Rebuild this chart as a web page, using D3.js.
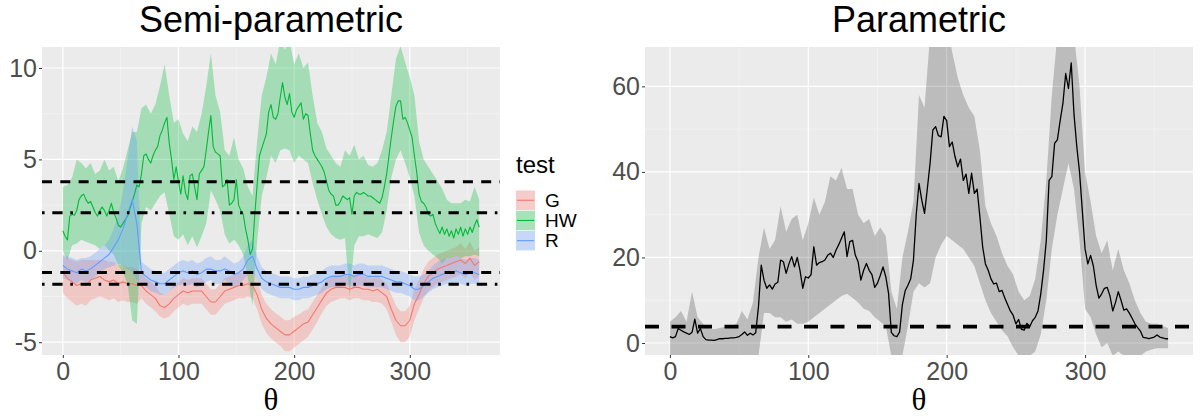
<!DOCTYPE html>
<html><head><meta charset="utf-8">
<script src="https://cdn.jsdelivr.net/npm/d3@7"></script>
<style>body{margin:0;background:#fff} svg{display:block}</style>
</head><body>
<svg id="c" width="1200" height="418"></svg>
<script>
// ---------------- DATA ----------------
// coarse grid (bands, G and R statistics)
const theta = [0,4,8,12,16,20,24,28,32,36, 40,44,48,52,56,60,64,68,72,76,
  80,84,88,92,96,100,104,108,112,116, 120,124,128,132,136,140,144,148,152,156,
  160,164,168,172,176,180,184,188,192,196, 200,204,208,212,216,220,224,228,232,236,
  240,244,248,252,256,260,264,268,272,276, 280,284,288,292,296,300,304,308,312,316,
  320,324,328,332,336,340,344,348,352,356, 360];
// fine grid (HW statistic, parametric statistic)
const thetaFine = [0,2,4,6,8,10,12,14,16,18, 20,22,24,26,28,30,32,34,36,38,
  40,42,44,46,48,50,52,54,56,58, 60,62,64,66,68,70,72,74,76,78,
  80,82,84,86,88,90,92,94,96,98, 100,102,104,106,108,110,112,114,116,118,
  120,122,124,126,128,130,132,134,136,138, 140,142,144,146,148,150,152,154,156,158,
  160,162,164,166,168,170,172,174,176,178, 180,182,184,186,188,190,192,194,196,198,
  200,202,204,206,208,210,212,214,216,218, 220,222,224,226,228,230,232,234,236,238,
  240,242,244,246,248,250,252,254,256,258, 260,262,264,266,268,270,272,274,276,278,
  280,282,284,286,288,290,292,294,296,298, 300,302,304,306,308,310,312,314,316,318,
  320,322,324,326,328,330,332,334,336,338, 340,342,344,346,348,350,352,354,356,358, 360];

const testNames = ["G", "HW", "R"];
const testColors = ["#F8766D", "#00BA38", "#619CFF"];

// Semi-parametric: HW statistic (fine grid) and band (coarse grid)
const hwMid = [1.1,0.8,0.6,1.9,2.0,1.95,2.2,2.8,3.0,3.1, 2.8,2.6,2.7,2.4,2.1,1.9,2.2,2.4,2.2,1.9,
  2.2,2.6,2.1,1.8,1.4,1.3,1.5,1.7,1.9,2.3, 2.7,3.1,3.6,3.5,4.2,5.2,5.3,5.0,4.8,5.2,
  5.5,5.7,6.3,6.6,7.0,7.3,5.9,5.0,3.9,4.6, 3.8,3.1,4.1,3.2,2.8,4.1,4.2,3.5,2.8,4.2,
  4.4,4.6,5.5,6.5,7.4,5.7,5.4,5.3,5.2,3.5, 3.6,3.9,2.5,2.6,2.8,3.9,2.5,2.2,2.0,1.2,
  0.6,-0.2,0.1,2.0,3.6,5.2,5.6,6.0,6.4,7.6, 8.0,7.3,7.2,7.5,8.4,9.2,8.4,8.0,8.6,7.6,
  7.3,7.7,7.9,8.1,7.2,7.5,7.4,6.4,5.5,5.2, 5.0,4.8,4.6,4.3,3.8,3.3,3.1,3.0,2.5,2.5,
  2.7,3.0,2.9,2.8,2.9,2.0,3.0,3.2,3.1,3.1, 3.2,3.1,3.0,3.0,2.9,2.8,2.7,2.6,2.9,3.5,
  4.2,5.2,6.2,7.1,7.9,8.2,8.2,7.2,7.3,7.0, 6.6,6.2,5.2,4.3,3.1,2.7,2.6,2.4,2.0,1.9,
  2.0,1.5,1.2,0.95,1.3,0.9,1.2,0.8,1.1,0.7, 1.2,0.9,1.3,0.8,1.2,0.9,1.3,1.0,1.4,1.7, 1.3];
const hwUp = [3.5,3.6,4.0,5.0,4.8,4.5,4.8,4.2,4.4,5.0, 4.4,4.6,3.8,4.5,5.5,6.5,6.5,7.8,8.0,7.5,
  8.0,9.0,10.2,8.5,7.0,7.2,6.4,6.0,6.8,6.5, 7.5,9.0,10.8,8.5,7.6,5.5,5.2,6.2,5.0,4.5,
  3.5,3.0,6.0,8.5,9.5,10.8,10.2,11.5,11.0,11.5, 10.2,10.8,10.0,10.3,8.5,7.0,6.5,5.6,5.2,4.8,
  4.6,5.5,5.2,5.8,5.0,5.2,4.7,4.6,4.8,5.5, 6.5,8.5,10.5,11.2,10.3,9.5,8.5,6.0,5.0,4.6,
  4.2,3.8,3.4,2.8,2.6,2.6,2.6,2.8,2.7,3.5, 2.8];
const hwLo = [0.0,-0.5,0.3,0.4,0.6,0.5,0.4,0.3,0.1,0.3, 0.0,-0.2,-0.8,-1.2,-1.8,-3.8,-4.0,1.5,2.4,2.2,
  2.6,3.0,3.2,2.0,0.8,0.6,0.9,0.3,0.8,0.2, 0.8,1.5,3.3,2.8,2.2,0.9,0.4,0.6,0.3,-0.2,
  -1.5,-3.0,0.5,3.0,4.0,5.2,4.8,5.5,5.6,5.5, 4.8,5.2,5.0,4.8,3.7,2.8,2.0,1.3,0.9,0.7,
  0.6,0.7,-2.5,0.3,0.8,0.8,0.9,0.8,0.7,1.0, 2.2,4.0,5.0,5.5,4.8,4.0,3.0,1.0,0.3,0.0,
  -0.2,-0.4,-0.7,-0.4,-0.4,-0.3,-0.4,-0.3,-0.3,-0.2, -0.3];

// Semi-parametric: G statistic and band
const gMid = [-1.2,-1.5,-1.7,-1.9,-1.8,-1.9,-1.6,-1.5,-1.4,-1.6, -1.7,-1.6,-1.8,-1.7,-1.8,-1.8,-1.9,-1.9,-2.2,-2.4,
  -2.6,-3.0,-3.1,-2.9,-2.6,-2.4,-2.2,-2.3,-2.2,-2.2, -2.2,-2.5,-2.8,-2.8,-2.5,-2.2,-2.1,-2.0,-1.9,-1.9,
  -1.8,-1.9,-2.4,-3.2,-3.7,-4.0,-4.2,-4.4,-4.6,-4.6, -4.4,-4.2,-4.0,-3.9,-3.5,-3.1,-2.7,-2.3,-2.1,-2.0,
  -2.0,-2.0,-2.1,-2.0,-2.0,-2.1,-2.1,-2.2,-2.1,-2.3, -2.5,-3.2,-3.8,-4.1,-4.1,-3.8,-2.9,-2.4,-1.8,-1.4,
  -1.2,-1.0,-0.9,-0.8,-0.7,-0.6,-0.5,-0.7,-0.4,-0.8, -0.6];
const gUp = [-0.3,-0.4,-0.5,-0.6,-0.5,-0.5,-0.5,-0.5,-0.5,-0.5, -0.6,-0.6,-0.8,-0.8,-0.9,-0.9,-1.0,-1.2,-1.5,-1.7,
  -1.9,-2.3,-2.4,-2.2,-1.9,-1.7,-1.5,-1.6,-1.5,-1.5, -1.5,-1.8,-2.1,-2.1,-1.8,-1.5,-1.4,-1.3,-1.2,-1.2,
  -1.1,-1.2,-1.6,-2.4,-2.9,-3.2,-3.4,-3.6,-3.8,-3.8, -3.6,-3.5,-3.3,-3.2,-2.8,-2.4,-2.0,-1.6,-1.4,-1.3,
  -1.3,-1.3,-1.4,-1.3,-1.3,-1.4,-1.4,-1.5,-1.4,-1.6, -1.8,-2.4,-3.0,-3.3,-3.3,-3.0,-2.1,-1.6,-1.0,-0.6,
  -0.4,-0.2,-0.1,0.0,0.1,0.2,0.4,0.1,0.5,0.0, 0.2];
const gLo = [-2.3,-2.6,-2.8,-3.0,-2.9,-3.0,-2.7,-2.6,-2.5,-2.6, -2.7,-2.6,-2.8,-2.7,-2.8,-2.8,-2.9,-2.6,-2.9,-3.1,
  -3.3,-3.6,-3.7,-3.6,-3.3,-3.1,-2.9,-3.0,-2.9,-2.9, -2.9,-3.2,-3.5,-3.5,-3.2,-2.9,-2.8,-2.7,-2.6,-2.6,
  -2.5,-2.6,-3.2,-4.0,-4.5,-4.8,-5.0,-5.2,-5.5,-5.5, -5.3,-5.1,-4.9,-4.7,-4.3,-3.9,-3.4,-3.0,-2.8,-2.7,
  -2.6,-2.6,-2.7,-2.6,-2.6,-2.7,-2.7,-2.8,-2.8,-2.9, -3.2,-3.9,-4.6,-5.0,-5.0,-4.7,-3.8,-3.2,-2.6,-2.2,
  -2.0,-1.8,-1.7,-1.6,-1.5,-1.4,-1.3,-1.5,-1.2,-1.6, -1.4];

// Semi-parametric: R statistic and band
const rMid = [-0.8,-1.0,-1.1,-1.2,-1.0,-1.1,-1.0,-0.8,-0.6,-0.4, -0.2,0.2,0.6,1.2,2.0,2.8,1.5,-1.2,-1.4,-1.6,
  -1.7,-1.8,-1.8,-1.6,-1.4,-1.2,-1.1,-1.2,-1.1,-1.3, -1.2,-1.0,-1.0,-1.1,-1.1,-1.0,-1.1,-1.3,-1.2,-1.0,
  -0.5,-0.3,-1.0,-1.5,-1.7,-1.8,-1.9,-2.0,-2.0,-2.0, -2.1,-2.1,-2.0,-2.0,-1.9,-1.8,-1.7,-1.5,-1.4,-1.4,
  -1.4,-1.3,-1.3,-1.4,-1.3,-1.3,-1.4,-1.4,-1.4,-1.4, -1.5,-1.6,-1.7,-1.7,-1.8,-1.9,-2.1,-2.1,-1.9,-1.7,
  -1.5,-1.4,-1.3,-1.2,-1.2,-1.1,-1.2,-1.3,-1.2,-1.2, -1.3];
const rUp = [-0.2,-0.3,-0.4,-0.5,-0.4,-0.4,-0.3,-0.1,0.1,0.3, 0.6,1.2,2.0,3.2,5.0,6.8,6.0,-0.6,-0.8,-1.0,
  -1.1,-1.2,-1.2,-1.0,-0.8,-0.6,-0.5,-0.6,-0.5,-0.7, -0.6,-0.4,-0.3,-0.5,-0.5,-0.3,-0.5,-0.7,-0.6,-0.3,
  0.3,0.6,-0.3,-0.9,-1.1,-1.2,-1.3,-1.4,-1.4,-1.4, -1.5,-1.5,-1.4,-1.4,-1.3,-1.2,-1.1,-0.9,-0.8,-0.8,
  -0.8,-0.7,-0.7,-0.8,-0.7,-0.7,-0.8,-0.8,-0.8,-0.8, -0.9,-1.0,-1.1,-1.1,-1.2,-1.3,-1.4,-1.4,-1.3,-1.1,
  -0.8,-0.6,-0.5,-0.4,-0.4,-0.3,-0.4,-0.5,-0.4,-0.4, -0.5];
const rLo = [-1.5,-1.6,-1.7,-1.8,-1.6,-1.7,-1.6,-1.4,-1.2,-1.0, -0.9,-0.8,-0.7,-0.8,-1.0,-1.2,-1.6,-1.8,-2.0,-2.2,
  -2.3,-2.4,-2.4,-2.2,-2.0,-1.9,-1.8,-1.9,-1.8,-2.0, -1.9,-1.7,-1.6,-1.8,-1.8,-1.6,-1.8,-2.0,-1.9,-1.6,
  -1.3,-1.2,-1.6,-2.1,-2.3,-2.4,-2.5,-2.6,-2.6,-2.6, -2.7,-2.7,-2.6,-2.6,-2.5,-2.4,-2.3,-2.1,-2.0,-2.0,
  -2.0,-1.9,-1.9,-2.0,-1.9,-1.9,-2.0,-2.0,-2.0,-2.0, -2.1,-2.2,-2.3,-2.3,-2.4,-2.5,-2.7,-2.7,-2.5,-2.3,
  -2.1,-2.0,-1.9,-1.8,-1.8,-1.7,-1.8,-1.9,-1.8,-1.8, -1.9];

// Semi-parametric reference lines
const semiDashed = [3.78, -1.18];
const semiDotdash = [2.08, -1.83];

// Parametric statistic (fine grid) and band (coarse grid)
const parMid = [1.5,1.2,1.5,3.4,3.0,2.6,2.3,2.0,2.5,5.6, 2.3,3.4,1.5,0.8,0.7,0.7,0.6,0.8,1.0,1.0,
  1.1,1.1,1.2,1.2,1.3,1.5,2.0,2.6,1.8,2.3, 1.9,2.4,8.5,18.2,14.7,12.8,13.6,12.6,13.8,14.2,
  19.4,19.0,16.3,18.5,20.2,17.8,20.0,17.0,12.8,15.5, 15.2,16.0,22.5,18.2,18.8,19.0,19.4,20.5,21.0,20.0,
  21.7,23.0,24.5,26.0,20.2,23.7,24.0,20.5,19.0,14.7, 17.0,18.6,17.0,16.0,13.0,14.0,15.8,17.8,15.5,11.6,
  2.5,1.7,1.5,2.6,9.0,12.2,13.5,15.0,19.4,30.0, 37.3,33.4,30.3,36.0,42.0,49.8,50.6,48.5,48.2,53.0,
  52.0,45.9,47.0,43.6,41.2,43.0,38.0,39.5,35.0,39.7, 35.0,36.0,29.5,22.5,18.5,17.0,15.0,13.8,14.0,12.0,
  12.3,10.5,9.0,7.5,6.5,4.5,5.5,3.2,3.0,4.6, 3.8,5.2,6.0,7.5,11.5,17.0,24.0,38.0,38.9,46.7,
  47.5,52.0,56.0,63.0,59.5,65.5,53.5,46.0,40.0,31.0, 22.0,18.5,20.5,18.0,13.5,10.5,11.5,12.8,13.0,11.0,
  7.5,9.5,12.0,10.0,7.7,8.0,7.0,5.8,4.5,3.6, 2.8,1.3,1.2,1.0,1.2,1.4,1.9,1.4,1.2,1.0, 1.0];
const parUp = [5.0,6.0,7.5,5.0,12.0,6.0,4.5,3.5,3.2,3.5, 3.8,4.0,4.5,7.5,5.5,9.5,20.0,27.0,22.0,24.0,
  32.0,26.0,29.0,30.0,24.0,28.0,34.0,30.0,33.0,39.0, 38.0,41.0,36.0,36.0,30.0,28.0,29.0,25.0,27.0,25.0,
  12.0,8.0,20.0,26.0,33.0,58.0,55.0,72.0,75.0,75.0, 75.0,68.0,62.0,58.0,55.0,53.0,45.0,32.0,28.0,25.0,
  21.0,18.0,16.0,12.0,10.0,11.0,15.0,24.0,38.0,58.0, 72.0,75.0,75.0,72.0,60.0,40.0,33.0,25.0,21.0,24.0,
  17.0,22.0,17.0,14.0,10.0,7.0,5.0,4.5,4.5,4.0, 3.5];
const parLo = [-3,-3,-3,-3,-3,-3,-3,-3,-3,-3, -3,-3,-3,-3,-3,-3,-3,7,7,6,
  6,5,5.5,4.5,4.5,5,6,7,8,9, 10,11,11.5,10.5,9.5,8,7.5,6,5,4,
  -3,-3,-3,4,12,14,13,14,20,23, 25,24,23,22,20,18,14,10,7,5,
  3,1.5,-1,-3,-3,-3,-2,2,10,22, 30,36,42,36,24,8,6,2,-1,0,
  -3,-2,-3,-3,-3,-3,-2,-1.5,-1.2,-1.2, -1.2];
const parDashed = [3.84];

// Axis ticks
const xTicks = [0, 100, 200, 300];
const xMinor = [50, 150, 250, 350];
const semiYTicks = [-5, 0, 5, 10];
const semiYMinor = [-2.5, 2.5, 7.5];
const parYTicks = [0, 20, 40, 60];
const parYMinor = [10, 30, 50];

// ---------------- DRAW ----------------
const svg = d3.select('#c');
const sans = "'Liberation Sans', Arial, Helvetica, sans-serif";
const serif = "'Liberation Serif', 'DejaVu Serif', serif";

function makePanel(id, left, right, top, bottom, yDomain, yTicks, yMinor, title) {
  const x = d3.scaleLinear().domain([-18, 378]).range([left, right]);
  const y = d3.scaleLinear().domain(yDomain).range([bottom, top]);
  const g = svg.append('g');
  g.append('rect').attr('x', left).attr('y', top).attr('width', right - left).attr('height', bottom - top).attr('fill', '#EBEBEB');
  xMinor.forEach(v => g.append('line').attr('x1', x(v)).attr('x2', x(v)).attr('y1', top).attr('y2', bottom).attr('stroke', '#F6F6F6').attr('stroke-width', 0.6));
  yMinor.forEach(v => g.append('line').attr('x1', left).attr('x2', right).attr('y1', y(v)).attr('y2', y(v)).attr('stroke', '#F6F6F6').attr('stroke-width', 0.6));
  xTicks.forEach(v => g.append('line').attr('x1', x(v)).attr('x2', x(v)).attr('y1', top).attr('y2', bottom).attr('stroke', '#FFFFFF').attr('stroke-width', 1.2));
  yTicks.forEach(v => g.append('line').attr('x1', left).attr('x2', right).attr('y1', y(v)).attr('y2', y(v)).attr('stroke', '#FFFFFF').attr('stroke-width', 1.2));
  svg.append('clipPath').attr('id', id).append('rect').attr('x', left).attr('y', top).attr('width', right - left).attr('height', bottom - top);
  const inner = svg.append('g').attr('clip-path', `url(#${id})`);
  const ax = svg.append('g').attr('transform', `translate(0,${bottom})`)
    .call(d3.axisBottom(x).tickValues(xTicks).tickSize(3).tickPadding(4.5).tickFormat(d3.format('d')));
  const ay = svg.append('g').attr('transform', `translate(${left},0)`)
    .call(d3.axisLeft(y).tickValues(yTicks).tickSize(3).tickPadding(2).tickFormat(d => String(d)));
  [ax, ay].forEach(a => {
    a.select('.domain').remove();
    a.selectAll('line').attr('stroke', '#333333').attr('stroke-width', 1);
    a.selectAll('text').attr('fill', '#4D4D4D').style('font-family', sans).style('font-size', '25px');
  });
  svg.append('text').attr('x', (left + right) / 2).attr('y', 32).attr('text-anchor', 'middle')
    .style('font-family', sans).style('font-size', '36px').attr('fill', '#000').text(title);
  svg.append('text').attr('x', (left + right) / 2).attr('y', 410).attr('text-anchor', 'middle')
    .style('font-family', serif).style('font-size', '31px').attr('fill', '#000').text('θ');
  return {x, y, inner, left, right};
}

function ribbon(p, xs, lo, hi, fill, op) {
  const area = d3.area().x((d, i) => p.x(xs[i])).y0((d, i) => p.y(lo[i])).y1((d, i) => p.y(hi[i]));
  p.inner.append('path').datum(xs).attr('d', area).attr('fill', fill).attr('fill-opacity', op).attr('stroke', 'none');
}
function line(p, xs, vals, color, w) {
  const ln = d3.line().x((d, i) => p.x(xs[i])).y((d, i) => p.y(vals[i]));
  p.inner.append('path').datum(xs).attr('d', ln).attr('fill', 'none').attr('stroke', color).attr('stroke-width', w).attr('stroke-linejoin', 'round');
}
function hline(p, v, dash, w) {
  p.inner.append('line').attr('x1', p.left).attr('x2', p.right).attr('y1', p.y(v)).attr('y2', p.y(v))
    .attr('stroke', '#000').attr('stroke-width', w).attr('stroke-dasharray', dash);
}

// Left panel
const L = makePanel('clipL', 42, 500, 47, 355, [-5.7, 11.15], semiYTicks, semiYMinor, 'Semi-parametric');
const mids = [gMid, hwMid, rMid], midX = [theta, thetaFine, theta];
const ups = [gUp, hwUp, rUp], los = [gLo, hwLo, rLo];
testNames.forEach((n, k) => ribbon(L, theta, los[k], ups[k], testColors[k], 0.3));
testNames.forEach((n, k) => line(L, midX[k], mids[k], testColors[k], 1.1));
semiDashed.forEach(v => hline(L, v, '10 8.3', 3));
semiDotdash.forEach(v => hline(L, v, '2.6 7.7 10.3 7.7', 3));

// Legend
const lg = svg.append('g');
lg.append('text').attr('x', 516).attr('y', 173).style('font-family', sans).style('font-size', '24px').attr('fill', '#000').text('test');
testNames.forEach((n, k) => {
  const ky = 190.5 + k * 20.2;
  lg.append('rect').attr('x', 516).attr('y', ky).attr('width', 19).attr('height', 19.5).attr('fill', '#F2F2F2');
  lg.append('rect').attr('x', 516).attr('y', ky).attr('width', 19).attr('height', 19.5).attr('fill', testColors[k]).attr('fill-opacity', 0.3);
  lg.append('line').attr('x1', 517).attr('x2', 534).attr('y1', ky + 9.75).attr('y2', ky + 9.75).attr('stroke', testColors[k]).attr('stroke-width', 1.1);
  lg.append('text').attr('x', 545).attr('y', ky + 9.75).attr('dy', '0.36em').style('font-family', sans).style('font-size', '19px').attr('fill', '#000').text(n);
});

// Right panel
const R = makePanel('clipR', 645, 1193, 47, 355, [-2.8, 69.2], parYTicks, parYMinor, 'Parametric');
ribbon(R, theta, parLo, parUp, '#000', 0.2);
line(R, thetaFine, parMid, '#000', 1.3);
parDashed.forEach(v => hline(R, v, '14 12.5', 3.6));
</script>
</body></html>
